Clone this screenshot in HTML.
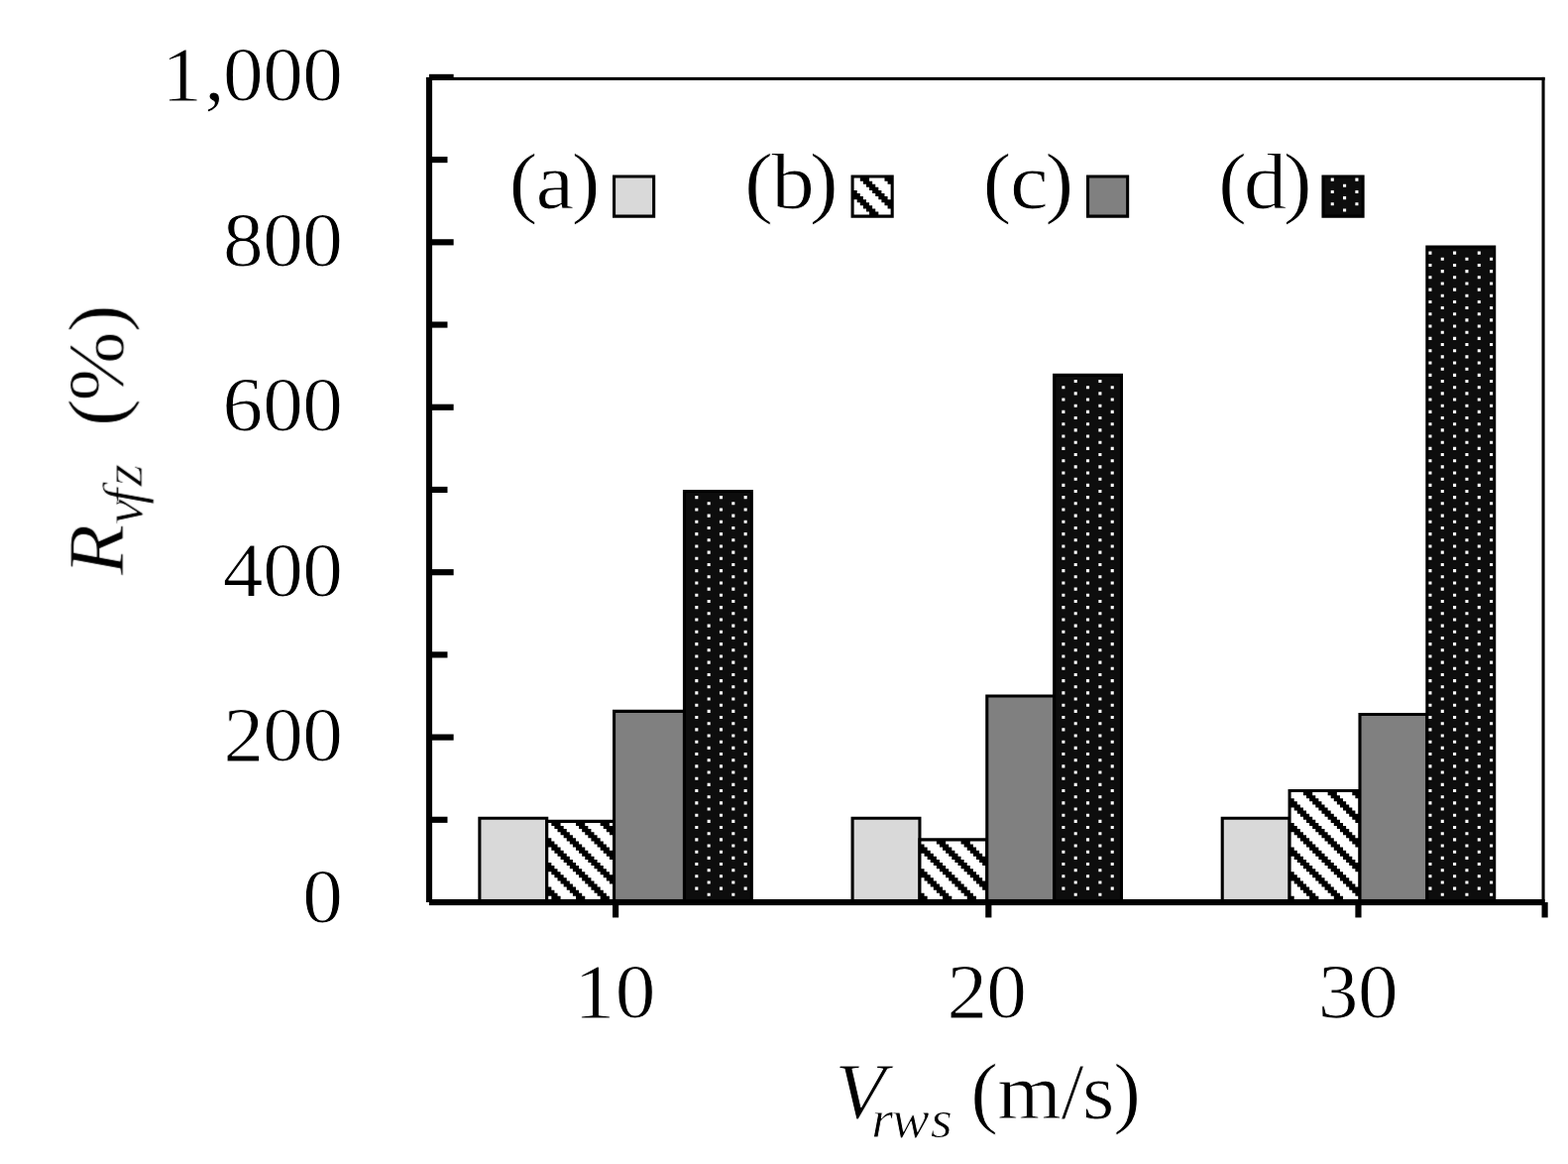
<!DOCTYPE html>
<html lang="en">
<head>
<meta charset="utf-8">
<title>Bar chart: R_vfz (%) versus V_rws (m/s)</title>
<style>
html,body{margin:0;padding:0;background:#fff;}
body{width:1582px;height:1174px;overflow:hidden;}
svg{display:block;}
text{font-family:"Liberation Serif","Times New Roman",Times,serif;fill:#000;}
</style>
</head>
<body>
<svg width="1582" height="1174" viewBox="0 0 1582 1174" role="img" aria-label="Bar chart of R vfz in percent against V rws in m/s for cases (a) to (d)">
<defs>
<filter id="soft" x="0" y="0" width="1582" height="1174" filterUnits="userSpaceOnUse" color-interpolation-filters="sRGB"><feGaussianBlur stdDeviation="0.6"/></filter>
</defs>
<rect x="0" y="0" width="1582" height="1174" fill="#fff"/>
<g id="plot">
<rect x="484.81" y="826.22" width="65.96" height="81.33" fill="#d9d9d9"/>
<path fill="#000" fill-rule="evenodd" d="M482.33,823.73H553.25V910.03H482.33ZM485.41,826.82H550.17V906.95H485.41Z"/>
<rect x="552.65" y="829.3" width="65.96" height="78.25" fill="#fff"/>
<path fill="#000" d="M556.34,828.9H565.59V832.98H556.34zM581.01,828.9H590.26V832.98H581.01zM605.68,828.9H614.93V832.98H605.68zM559.42,832.98H568.67V836.06H559.42zM584.09,832.98H593.34V836.06H584.09zM608.76,832.98H619.01V836.06H608.76zM562.51,836.06H571.76V839.14H562.51zM587.18,836.06H596.43V839.14H587.18zM611.85,836.06H619.01V839.14H611.85zM565.59,839.14H574.84V842.23H565.59zM590.26,839.14H599.51V842.23H590.26zM614.93,839.14H619.01V842.23H614.93zM568.67,842.23H577.92V845.31H568.67zM593.34,842.23H602.6V845.31H593.34zM552.25,845.31H556.34V848.39H552.25zM571.76,845.31H581.01V848.39H571.76zM596.43,845.31H605.68V848.39H596.43zM552.25,848.39H559.42V851.47H552.25zM574.84,848.39H584.09V851.47H574.84zM599.51,848.39H608.76V851.47H599.51zM552.25,851.47H562.51V854.55H552.25zM577.92,851.47H587.18V854.55H577.92zM602.6,851.47H611.85V854.55H602.6zM556.34,854.55H565.59V857.64H556.34zM581.01,854.55H590.26V857.64H581.01zM605.68,854.55H614.93V857.64H605.68zM559.42,857.64H568.67V860.72H559.42zM584.09,857.64H593.34V860.72H584.09zM608.76,857.64H619.01V860.72H608.76zM562.51,860.72H571.76V863.8H562.51zM587.18,860.72H596.43V863.8H587.18zM611.85,860.72H619.01V863.8H611.85zM565.59,863.8H574.84V866.88H565.59zM590.26,863.8H599.51V866.88H590.26zM614.93,863.8H619.01V866.88H614.93zM568.67,866.88H577.92V869.96H568.67zM593.34,866.88H602.6V869.96H593.34zM552.25,869.96H556.34V873.05H552.25zM571.76,869.96H581.01V873.05H571.76zM596.43,869.96H605.68V873.05H596.43zM552.25,873.05H559.42V876.13H552.25zM574.84,873.05H584.09V876.13H574.84zM599.51,873.05H608.76V876.13H599.51zM552.25,876.13H562.51V879.21H552.25zM577.92,876.13H587.18V879.21H577.92zM602.6,876.13H611.85V879.21H602.6zM556.34,879.21H565.59V882.29H556.34zM581.01,879.21H590.26V882.29H581.01zM605.68,879.21H614.93V882.29H605.68zM559.42,882.29H568.67V885.37H559.42zM584.09,882.29H593.34V885.37H584.09zM608.76,882.29H619.01V885.37H608.76zM562.51,885.37H571.76V888.46H562.51zM587.18,885.37H596.43V888.46H587.18zM611.85,885.37H619.01V888.46H611.85zM565.59,888.46H574.84V891.54H565.59zM590.26,888.46H599.51V891.54H590.26zM614.93,888.46H619.01V891.54H614.93zM568.67,891.54H577.92V894.62H568.67zM593.34,891.54H602.6V894.62H593.34zM552.25,894.62H556.34V897.7H552.25zM571.76,894.62H581.01V897.7H571.76zM596.43,894.62H605.68V897.7H596.43zM552.25,897.7H559.42V900.78H552.25zM574.84,897.7H584.09V900.78H574.84zM599.51,897.7H608.76V900.78H599.51zM552.25,900.78H562.51V903.87H552.25zM577.92,900.78H587.18V903.87H577.92zM602.6,900.78H611.85V903.87H602.6zM556.34,903.87H565.59V907.95H556.34zM581.01,903.87H590.26V907.95H581.01zM605.68,903.87H614.93V907.95H605.68z"/>
<path fill="#000" fill-rule="evenodd" d="M550.17,826.82H621.1V910.03H550.17ZM553.25,829.9H618.01V906.95H553.25Z"/>
<rect x="620.5" y="718.35" width="69.04" height="189.2" fill="#808080"/>
<path fill="#000" fill-rule="evenodd" d="M618.01,715.86H692.03V910.03H618.01ZM621.1,718.95H688.94V906.95H621.1Z"/>
<rect x="691.43" y="496.44" width="65.96" height="411.11" fill="#0d0d0d"/>
<path fill="#fff" d="M701.28,500.12H704.36V503.21H701.28zM725.95,500.12H729.03V503.21H725.95zM750.62,500.12H753.7V503.21H750.62zM713.61,506.29H716.7V509.37H713.61zM738.28,506.29H741.37V509.37H738.28zM701.28,512.45H704.36V515.53H701.28zM725.95,512.45H729.03V515.53H725.95zM750.62,512.45H753.7V515.53H750.62zM713.61,518.62H716.7V521.7H713.61zM738.28,518.62H741.37V521.7H738.28zM701.28,524.78H704.36V527.86H701.28zM725.95,524.78H729.03V527.86H725.95zM750.62,524.78H753.7V527.86H750.62zM713.61,530.94H716.7V534.03H713.61zM738.28,530.94H741.37V534.03H738.28zM701.28,537.11H704.36V540.19H701.28zM725.95,537.11H729.03V540.19H725.95zM750.62,537.11H753.7V540.19H750.62zM713.61,543.27H716.7V546.35H713.61zM738.28,543.27H741.37V546.35H738.28zM701.28,549.44H704.36V552.52H701.28zM725.95,549.44H729.03V552.52H725.95zM750.62,549.44H753.7V552.52H750.62zM713.61,555.6H716.7V558.68H713.61zM738.28,555.6H741.37V558.68H738.28zM701.28,561.76H704.36V564.85H701.28zM725.95,561.76H729.03V564.85H725.95zM750.62,561.76H753.7V564.85H750.62zM713.61,567.93H716.7V571.01H713.61zM738.28,567.93H741.37V571.01H738.28zM701.28,574.09H704.36V577.17H701.28zM725.95,574.09H729.03V577.17H725.95zM750.62,574.09H753.7V577.17H750.62zM713.61,580.26H716.7V583.34H713.61zM738.28,580.26H741.37V583.34H738.28zM701.28,586.42H704.36V589.5H701.28zM725.95,586.42H729.03V589.5H725.95zM750.62,586.42H753.7V589.5H750.62zM713.61,592.58H716.7V595.67H713.61zM738.28,592.58H741.37V595.67H738.28zM701.28,598.75H704.36V601.83H701.28zM725.95,598.75H729.03V601.83H725.95zM750.62,598.75H753.7V601.83H750.62zM713.61,604.91H716.7V607.99H713.61zM738.28,604.91H741.37V607.99H738.28zM701.28,611.08H704.36V614.16H701.28zM725.95,611.08H729.03V614.16H725.95zM750.62,611.08H753.7V614.16H750.62zM713.61,617.24H716.7V620.32H713.61zM738.28,617.24H741.37V620.32H738.28zM701.28,623.4H704.36V626.49H701.28zM725.95,623.4H729.03V626.49H725.95zM750.62,623.4H753.7V626.49H750.62zM713.61,629.57H716.7V632.65H713.61zM738.28,629.57H741.37V632.65H738.28zM701.28,635.73H704.36V638.81H701.28zM725.95,635.73H729.03V638.81H725.95zM750.62,635.73H753.7V638.81H750.62zM713.61,641.9H716.7V644.98H713.61zM738.28,641.9H741.37V644.98H738.28zM701.28,648.06H704.36V651.14H701.28zM725.95,648.06H729.03V651.14H725.95zM750.62,648.06H753.7V651.14H750.62zM713.61,654.22H716.7V657.31H713.61zM738.28,654.22H741.37V657.31H738.28zM701.28,660.39H704.36V663.47H701.28zM725.95,660.39H729.03V663.47H725.95zM750.62,660.39H753.7V663.47H750.62zM713.61,666.55H716.7V669.63H713.61zM738.28,666.55H741.37V669.63H738.28zM701.28,672.72H704.36V675.8H701.28zM725.95,672.72H729.03V675.8H725.95zM750.62,672.72H753.7V675.8H750.62zM713.61,678.88H716.7V681.96H713.61zM738.28,678.88H741.37V681.96H738.28zM701.28,685.04H704.36V688.13H701.28zM725.95,685.04H729.03V688.13H725.95zM750.62,685.04H753.7V688.13H750.62zM713.61,691.21H716.7V694.29H713.61zM738.28,691.21H741.37V694.29H738.28zM701.28,697.37H704.36V700.45H701.28zM725.95,697.37H729.03V700.45H725.95zM750.62,697.37H753.7V700.45H750.62zM713.61,703.54H716.7V706.62H713.61zM738.28,703.54H741.37V706.62H738.28zM701.28,709.7H704.36V712.78H701.28zM725.95,709.7H729.03V712.78H725.95zM750.62,709.7H753.7V712.78H750.62zM713.61,715.86H716.7V718.95H713.61zM738.28,715.86H741.37V718.95H738.28zM701.28,722.03H704.36V725.11H701.28zM725.95,722.03H729.03V725.11H725.95zM750.62,722.03H753.7V725.11H750.62zM713.61,728.19H716.7V731.27H713.61zM738.28,728.19H741.37V731.27H738.28zM701.28,734.36H704.36V737.44H701.28zM725.95,734.36H729.03V737.44H725.95zM750.62,734.36H753.7V737.44H750.62zM713.61,740.52H716.7V743.6H713.61zM738.28,740.52H741.37V743.6H738.28zM701.28,746.68H704.36V749.77H701.28zM725.95,746.68H729.03V749.77H725.95zM750.62,746.68H753.7V749.77H750.62zM713.61,752.85H716.7V755.93H713.61zM738.28,752.85H741.37V755.93H738.28zM701.28,759.01H704.36V762.09H701.28zM725.95,759.01H729.03V762.09H725.95zM750.62,759.01H753.7V762.09H750.62zM713.61,765.18H716.7V768.26H713.61zM738.28,765.18H741.37V768.26H738.28zM701.28,771.34H704.36V774.42H701.28zM725.95,771.34H729.03V774.42H725.95zM750.62,771.34H753.7V774.42H750.62zM713.61,777.5H716.7V780.59H713.61zM738.28,777.5H741.37V780.59H738.28zM701.28,783.67H704.36V786.75H701.28zM725.95,783.67H729.03V786.75H725.95zM750.62,783.67H753.7V786.75H750.62zM713.61,789.83H716.7V792.91H713.61zM738.28,789.83H741.37V792.91H738.28zM701.28,796H704.36V799.08H701.28zM725.95,796H729.03V799.08H725.95zM750.62,796H753.7V799.08H750.62zM713.61,802.16H716.7V805.24H713.61zM738.28,802.16H741.37V805.24H738.28zM701.28,808.32H704.36V811.41H701.28zM725.95,808.32H729.03V811.41H725.95zM750.62,808.32H753.7V811.41H750.62zM713.61,814.49H716.7V817.57H713.61zM738.28,814.49H741.37V817.57H738.28zM701.28,820.65H704.36V823.73H701.28zM725.95,820.65H729.03V823.73H725.95zM750.62,820.65H753.7V823.73H750.62zM713.61,826.82H716.7V829.9H713.61zM738.28,826.82H741.37V829.9H738.28zM701.28,832.98H704.36V836.06H701.28zM725.95,832.98H729.03V836.06H725.95zM750.62,832.98H753.7V836.06H750.62zM713.61,839.14H716.7V842.23H713.61zM738.28,839.14H741.37V842.23H738.28zM701.28,845.31H704.36V848.39H701.28zM725.95,845.31H729.03V848.39H725.95zM750.62,845.31H753.7V848.39H750.62zM713.61,851.47H716.7V854.55H713.61zM738.28,851.47H741.37V854.55H738.28zM701.28,857.64H704.36V860.72H701.28zM725.95,857.64H729.03V860.72H725.95zM750.62,857.64H753.7V860.72H750.62zM713.61,863.8H716.7V866.88H713.61zM738.28,863.8H741.37V866.88H738.28zM701.28,869.96H704.36V873.05H701.28zM725.95,869.96H729.03V873.05H725.95zM750.62,869.96H753.7V873.05H750.62zM713.61,876.13H716.7V879.21H713.61zM738.28,876.13H741.37V879.21H738.28zM701.28,882.29H704.36V885.37H701.28zM725.95,882.29H729.03V885.37H725.95zM750.62,882.29H753.7V885.37H750.62zM713.61,888.46H716.7V891.54H713.61zM738.28,888.46H741.37V891.54H738.28zM701.28,894.62H704.36V897.7H701.28zM725.95,894.62H729.03V897.7H725.95zM750.62,894.62H753.7V897.7H750.62zM713.61,900.78H716.7V903.87H713.61zM738.28,900.78H741.37V903.87H738.28z"/>
<path fill="#000" fill-rule="evenodd" d="M688.94,493.96H759.87V910.03H688.94ZM692.03,497.04H756.79V906.95H692.03Z"/>
<rect x="861.04" y="826.22" width="65.96" height="81.33" fill="#d9d9d9"/>
<path fill="#000" fill-rule="evenodd" d="M858.55,823.73H929.48V910.03H858.55ZM861.64,826.82H926.4V906.95H861.64Z"/>
<rect x="928.88" y="847.79" width="65.96" height="59.76" fill="#fff"/>
<path fill="#000" d="M944.9,847.39H954.15V851.47H944.9zM969.57,847.39H978.82V851.47H969.57zM928.48,851.47H932.56V854.55H928.48zM947.98,851.47H957.23V854.55H947.98zM972.65,851.47H981.9V854.55H972.65zM928.48,854.55H935.65V857.64H928.48zM951.07,854.55H960.32V857.64H951.07zM975.74,854.55H984.99V857.64H975.74zM928.48,857.64H938.73V860.72H928.48zM954.15,857.64H963.4V860.72H954.15zM978.82,857.64H988.07V860.72H978.82zM932.56,860.72H941.82V863.8H932.56zM957.23,860.72H966.49V863.8H957.23zM981.9,860.72H991.16V863.8H981.9zM935.65,863.8H944.9V866.88H935.65zM960.32,863.8H969.57V866.88H960.32zM984.99,863.8H995.24V866.88H984.99zM938.73,866.88H947.98V869.96H938.73zM963.4,866.88H972.65V869.96H963.4zM988.07,866.88H995.24V869.96H988.07zM941.82,869.96H951.07V873.05H941.82zM966.49,869.96H975.74V873.05H966.49zM991.16,869.96H995.24V873.05H991.16zM944.9,873.05H954.15V876.13H944.9zM969.57,873.05H978.82V876.13H969.57zM928.48,876.13H932.56V879.21H928.48zM947.98,876.13H957.23V879.21H947.98zM972.65,876.13H981.9V879.21H972.65zM928.48,879.21H935.65V882.29H928.48zM951.07,879.21H960.32V882.29H951.07zM975.74,879.21H984.99V882.29H975.74zM928.48,882.29H938.73V885.37H928.48zM954.15,882.29H963.4V885.37H954.15zM978.82,882.29H988.07V885.37H978.82zM932.56,885.37H941.82V888.46H932.56zM957.23,885.37H966.49V888.46H957.23zM981.9,885.37H991.16V888.46H981.9zM935.65,888.46H944.9V891.54H935.65zM960.32,888.46H969.57V891.54H960.32zM984.99,888.46H995.24V891.54H984.99zM938.73,891.54H947.98V894.62H938.73zM963.4,891.54H972.65V894.62H963.4zM988.07,891.54H995.24V894.62H988.07zM941.82,894.62H951.07V897.7H941.82zM966.49,894.62H975.74V897.7H966.49zM991.16,894.62H995.24V897.7H991.16zM944.9,897.7H954.15V900.78H944.9zM969.57,897.7H978.82V900.78H969.57zM928.48,900.78H932.56V903.87H928.48zM947.98,900.78H957.23V903.87H947.98zM972.65,900.78H981.9V903.87H972.65zM928.48,903.87H935.65V907.95H928.48zM951.07,903.87H960.32V907.95H951.07zM975.74,903.87H984.99V907.95H975.74z"/>
<path fill="#000" fill-rule="evenodd" d="M926.4,845.31H997.32V910.03H926.4ZM929.48,848.39H994.24V906.95H929.48Z"/>
<rect x="996.72" y="702.94" width="65.96" height="204.61" fill="#808080"/>
<path fill="#000" fill-rule="evenodd" d="M994.24,700.45H1065.17V910.03H994.24ZM997.32,703.54H1062.08V906.95H997.32Z"/>
<rect x="1064.57" y="379.33" width="65.96" height="528.22" fill="#0d0d0d"/>
<path fill="#fff" d="M1083.67,383.01H1086.75V386.09H1083.67zM1108.34,383.01H1111.43V386.09H1108.34zM1071.34,389.17H1074.42V392.25H1071.34zM1096.01,389.17H1099.09V392.25H1096.01zM1120.68,389.17H1123.76V392.25H1120.68zM1083.67,395.34H1086.75V398.42H1083.67zM1108.34,395.34H1111.43V398.42H1108.34zM1071.34,401.5H1074.42V404.58H1071.34zM1096.01,401.5H1099.09V404.58H1096.01zM1120.68,401.5H1123.76V404.58H1120.68zM1083.67,407.66H1086.75V410.75H1083.67zM1108.34,407.66H1111.43V410.75H1108.34zM1071.34,413.83H1074.42V416.91H1071.34zM1096.01,413.83H1099.09V416.91H1096.01zM1120.68,413.83H1123.76V416.91H1120.68zM1083.67,419.99H1086.75V423.07H1083.67zM1108.34,419.99H1111.43V423.07H1108.34zM1071.34,426.16H1074.42V429.24H1071.34zM1096.01,426.16H1099.09V429.24H1096.01zM1120.68,426.16H1123.76V429.24H1120.68zM1083.67,432.32H1086.75V435.4H1083.67zM1108.34,432.32H1111.43V435.4H1108.34zM1071.34,438.48H1074.42V441.57H1071.34zM1096.01,438.48H1099.09V441.57H1096.01zM1120.68,438.48H1123.76V441.57H1120.68zM1083.67,444.65H1086.75V447.73H1083.67zM1108.34,444.65H1111.43V447.73H1108.34zM1071.34,450.81H1074.42V453.89H1071.34zM1096.01,450.81H1099.09V453.89H1096.01zM1120.68,450.81H1123.76V453.89H1120.68zM1083.67,456.98H1086.75V460.06H1083.67zM1108.34,456.98H1111.43V460.06H1108.34zM1071.34,463.14H1074.42V466.22H1071.34zM1096.01,463.14H1099.09V466.22H1096.01zM1120.68,463.14H1123.76V466.22H1120.68zM1083.67,469.3H1086.75V472.39H1083.67zM1108.34,469.3H1111.43V472.39H1108.34zM1071.34,475.47H1074.42V478.55H1071.34zM1096.01,475.47H1099.09V478.55H1096.01zM1120.68,475.47H1123.76V478.55H1120.68zM1083.67,481.63H1086.75V484.71H1083.67zM1108.34,481.63H1111.43V484.71H1108.34zM1071.34,487.8H1074.42V490.88H1071.34zM1096.01,487.8H1099.09V490.88H1096.01zM1120.68,487.8H1123.76V490.88H1120.68zM1083.67,493.96H1086.75V497.04H1083.67zM1108.34,493.96H1111.43V497.04H1108.34zM1071.34,500.12H1074.42V503.21H1071.34zM1096.01,500.12H1099.09V503.21H1096.01zM1120.68,500.12H1123.76V503.21H1120.68zM1083.67,506.29H1086.75V509.37H1083.67zM1108.34,506.29H1111.43V509.37H1108.34zM1071.34,512.45H1074.42V515.53H1071.34zM1096.01,512.45H1099.09V515.53H1096.01zM1120.68,512.45H1123.76V515.53H1120.68zM1083.67,518.62H1086.75V521.7H1083.67zM1108.34,518.62H1111.43V521.7H1108.34zM1071.34,524.78H1074.42V527.86H1071.34zM1096.01,524.78H1099.09V527.86H1096.01zM1120.68,524.78H1123.76V527.86H1120.68zM1083.67,530.94H1086.75V534.03H1083.67zM1108.34,530.94H1111.43V534.03H1108.34zM1071.34,537.11H1074.42V540.19H1071.34zM1096.01,537.11H1099.09V540.19H1096.01zM1120.68,537.11H1123.76V540.19H1120.68zM1083.67,543.27H1086.75V546.35H1083.67zM1108.34,543.27H1111.43V546.35H1108.34zM1071.34,549.44H1074.42V552.52H1071.34zM1096.01,549.44H1099.09V552.52H1096.01zM1120.68,549.44H1123.76V552.52H1120.68zM1083.67,555.6H1086.75V558.68H1083.67zM1108.34,555.6H1111.43V558.68H1108.34zM1071.34,561.76H1074.42V564.85H1071.34zM1096.01,561.76H1099.09V564.85H1096.01zM1120.68,561.76H1123.76V564.85H1120.68zM1083.67,567.93H1086.75V571.01H1083.67zM1108.34,567.93H1111.43V571.01H1108.34zM1071.34,574.09H1074.42V577.17H1071.34zM1096.01,574.09H1099.09V577.17H1096.01zM1120.68,574.09H1123.76V577.17H1120.68zM1083.67,580.26H1086.75V583.34H1083.67zM1108.34,580.26H1111.43V583.34H1108.34zM1071.34,586.42H1074.42V589.5H1071.34zM1096.01,586.42H1099.09V589.5H1096.01zM1120.68,586.42H1123.76V589.5H1120.68zM1083.67,592.58H1086.75V595.67H1083.67zM1108.34,592.58H1111.43V595.67H1108.34zM1071.34,598.75H1074.42V601.83H1071.34zM1096.01,598.75H1099.09V601.83H1096.01zM1120.68,598.75H1123.76V601.83H1120.68zM1083.67,604.91H1086.75V607.99H1083.67zM1108.34,604.91H1111.43V607.99H1108.34zM1071.34,611.08H1074.42V614.16H1071.34zM1096.01,611.08H1099.09V614.16H1096.01zM1120.68,611.08H1123.76V614.16H1120.68zM1083.67,617.24H1086.75V620.32H1083.67zM1108.34,617.24H1111.43V620.32H1108.34zM1071.34,623.4H1074.42V626.49H1071.34zM1096.01,623.4H1099.09V626.49H1096.01zM1120.68,623.4H1123.76V626.49H1120.68zM1083.67,629.57H1086.75V632.65H1083.67zM1108.34,629.57H1111.43V632.65H1108.34zM1071.34,635.73H1074.42V638.81H1071.34zM1096.01,635.73H1099.09V638.81H1096.01zM1120.68,635.73H1123.76V638.81H1120.68zM1083.67,641.9H1086.75V644.98H1083.67zM1108.34,641.9H1111.43V644.98H1108.34zM1071.34,648.06H1074.42V651.14H1071.34zM1096.01,648.06H1099.09V651.14H1096.01zM1120.68,648.06H1123.76V651.14H1120.68zM1083.67,654.22H1086.75V657.31H1083.67zM1108.34,654.22H1111.43V657.31H1108.34zM1071.34,660.39H1074.42V663.47H1071.34zM1096.01,660.39H1099.09V663.47H1096.01zM1120.68,660.39H1123.76V663.47H1120.68zM1083.67,666.55H1086.75V669.63H1083.67zM1108.34,666.55H1111.43V669.63H1108.34zM1071.34,672.72H1074.42V675.8H1071.34zM1096.01,672.72H1099.09V675.8H1096.01zM1120.68,672.72H1123.76V675.8H1120.68zM1083.67,678.88H1086.75V681.96H1083.67zM1108.34,678.88H1111.43V681.96H1108.34zM1071.34,685.04H1074.42V688.13H1071.34zM1096.01,685.04H1099.09V688.13H1096.01zM1120.68,685.04H1123.76V688.13H1120.68zM1083.67,691.21H1086.75V694.29H1083.67zM1108.34,691.21H1111.43V694.29H1108.34zM1071.34,697.37H1074.42V700.45H1071.34zM1096.01,697.37H1099.09V700.45H1096.01zM1120.68,697.37H1123.76V700.45H1120.68zM1083.67,703.54H1086.75V706.62H1083.67zM1108.34,703.54H1111.43V706.62H1108.34zM1071.34,709.7H1074.42V712.78H1071.34zM1096.01,709.7H1099.09V712.78H1096.01zM1120.68,709.7H1123.76V712.78H1120.68zM1083.67,715.86H1086.75V718.95H1083.67zM1108.34,715.86H1111.43V718.95H1108.34zM1071.34,722.03H1074.42V725.11H1071.34zM1096.01,722.03H1099.09V725.11H1096.01zM1120.68,722.03H1123.76V725.11H1120.68zM1083.67,728.19H1086.75V731.27H1083.67zM1108.34,728.19H1111.43V731.27H1108.34zM1071.34,734.36H1074.42V737.44H1071.34zM1096.01,734.36H1099.09V737.44H1096.01zM1120.68,734.36H1123.76V737.44H1120.68zM1083.67,740.52H1086.75V743.6H1083.67zM1108.34,740.52H1111.43V743.6H1108.34zM1071.34,746.68H1074.42V749.77H1071.34zM1096.01,746.68H1099.09V749.77H1096.01zM1120.68,746.68H1123.76V749.77H1120.68zM1083.67,752.85H1086.75V755.93H1083.67zM1108.34,752.85H1111.43V755.93H1108.34zM1071.34,759.01H1074.42V762.09H1071.34zM1096.01,759.01H1099.09V762.09H1096.01zM1120.68,759.01H1123.76V762.09H1120.68zM1083.67,765.18H1086.75V768.26H1083.67zM1108.34,765.18H1111.43V768.26H1108.34zM1071.34,771.34H1074.42V774.42H1071.34zM1096.01,771.34H1099.09V774.42H1096.01zM1120.68,771.34H1123.76V774.42H1120.68zM1083.67,777.5H1086.75V780.59H1083.67zM1108.34,777.5H1111.43V780.59H1108.34zM1071.34,783.67H1074.42V786.75H1071.34zM1096.01,783.67H1099.09V786.75H1096.01zM1120.68,783.67H1123.76V786.75H1120.68zM1083.67,789.83H1086.75V792.91H1083.67zM1108.34,789.83H1111.43V792.91H1108.34zM1071.34,796H1074.42V799.08H1071.34zM1096.01,796H1099.09V799.08H1096.01zM1120.68,796H1123.76V799.08H1120.68zM1083.67,802.16H1086.75V805.24H1083.67zM1108.34,802.16H1111.43V805.24H1108.34zM1071.34,808.32H1074.42V811.41H1071.34zM1096.01,808.32H1099.09V811.41H1096.01zM1120.68,808.32H1123.76V811.41H1120.68zM1083.67,814.49H1086.75V817.57H1083.67zM1108.34,814.49H1111.43V817.57H1108.34zM1071.34,820.65H1074.42V823.73H1071.34zM1096.01,820.65H1099.09V823.73H1096.01zM1120.68,820.65H1123.76V823.73H1120.68zM1083.67,826.82H1086.75V829.9H1083.67zM1108.34,826.82H1111.43V829.9H1108.34zM1071.34,832.98H1074.42V836.06H1071.34zM1096.01,832.98H1099.09V836.06H1096.01zM1120.68,832.98H1123.76V836.06H1120.68zM1083.67,839.14H1086.75V842.23H1083.67zM1108.34,839.14H1111.43V842.23H1108.34zM1071.34,845.31H1074.42V848.39H1071.34zM1096.01,845.31H1099.09V848.39H1096.01zM1120.68,845.31H1123.76V848.39H1120.68zM1083.67,851.47H1086.75V854.55H1083.67zM1108.34,851.47H1111.43V854.55H1108.34zM1071.34,857.64H1074.42V860.72H1071.34zM1096.01,857.64H1099.09V860.72H1096.01zM1120.68,857.64H1123.76V860.72H1120.68zM1083.67,863.8H1086.75V866.88H1083.67zM1108.34,863.8H1111.43V866.88H1108.34zM1071.34,869.96H1074.42V873.05H1071.34zM1096.01,869.96H1099.09V873.05H1096.01zM1120.68,869.96H1123.76V873.05H1120.68zM1083.67,876.13H1086.75V879.21H1083.67zM1108.34,876.13H1111.43V879.21H1108.34zM1071.34,882.29H1074.42V885.37H1071.34zM1096.01,882.29H1099.09V885.37H1096.01zM1120.68,882.29H1123.76V885.37H1120.68zM1083.67,888.46H1086.75V891.54H1083.67zM1108.34,888.46H1111.43V891.54H1108.34zM1071.34,894.62H1074.42V897.7H1071.34zM1096.01,894.62H1099.09V897.7H1096.01zM1120.68,894.62H1123.76V897.7H1120.68zM1083.67,900.78H1086.75V903.87H1083.67zM1108.34,900.78H1111.43V903.87H1108.34z"/>
<path fill="#000" fill-rule="evenodd" d="M1062.08,376.84H1133.01V910.03H1062.08ZM1065.17,379.93H1129.93V906.95H1065.17Z"/>
<rect x="1234.18" y="826.22" width="65.96" height="81.33" fill="#d9d9d9"/>
<path fill="#000" fill-rule="evenodd" d="M1231.69,823.73H1302.62V910.03H1231.69ZM1234.78,826.82H1299.54V906.95H1234.78Z"/>
<rect x="1302.02" y="798.48" width="69.04" height="109.07" fill="#fff"/>
<path fill="#000" d="M1314.96,798.08H1324.21V802.16H1314.96zM1339.63,798.08H1348.88V802.16H1339.63zM1364.3,798.08H1371.47V802.16H1364.3zM1318.04,802.16H1327.29V805.24H1318.04zM1342.71,802.16H1351.96V805.24H1342.71zM1367.38,802.16H1371.47V805.24H1367.38zM1301.62,805.24H1305.71V808.32H1301.62zM1321.13,805.24H1330.38V808.32H1321.13zM1345.8,805.24H1355.05V808.32H1345.8zM1301.62,808.32H1308.79V811.41H1301.62zM1324.21,808.32H1333.46V811.41H1324.21zM1348.88,808.32H1358.13V811.41H1348.88zM1301.62,811.41H1311.87V814.49H1301.62zM1327.29,811.41H1336.54V814.49H1327.29zM1351.96,811.41H1361.21V814.49H1351.96zM1305.71,814.49H1314.96V817.57H1305.71zM1330.38,814.49H1339.63V817.57H1330.38zM1355.05,814.49H1364.3V817.57H1355.05zM1308.79,817.57H1318.04V820.65H1308.79zM1333.46,817.57H1342.71V820.65H1333.46zM1358.13,817.57H1367.38V820.65H1358.13zM1311.87,820.65H1321.13V823.73H1311.87zM1336.54,820.65H1345.8V823.73H1336.54zM1361.21,820.65H1371.47V823.73H1361.21zM1314.96,823.73H1324.21V826.82H1314.96zM1339.63,823.73H1348.88V826.82H1339.63zM1364.3,823.73H1371.47V826.82H1364.3zM1318.04,826.82H1327.29V829.9H1318.04zM1342.71,826.82H1351.96V829.9H1342.71zM1367.38,826.82H1371.47V829.9H1367.38zM1301.62,829.9H1305.71V832.98H1301.62zM1321.13,829.9H1330.38V832.98H1321.13zM1345.8,829.9H1355.05V832.98H1345.8zM1301.62,832.98H1308.79V836.06H1301.62zM1324.21,832.98H1333.46V836.06H1324.21zM1348.88,832.98H1358.13V836.06H1348.88zM1301.62,836.06H1311.87V839.14H1301.62zM1327.29,836.06H1336.54V839.14H1327.29zM1351.96,836.06H1361.21V839.14H1351.96zM1305.71,839.14H1314.96V842.23H1305.71zM1330.38,839.14H1339.63V842.23H1330.38zM1355.05,839.14H1364.3V842.23H1355.05zM1308.79,842.23H1318.04V845.31H1308.79zM1333.46,842.23H1342.71V845.31H1333.46zM1358.13,842.23H1367.38V845.31H1358.13zM1311.87,845.31H1321.13V848.39H1311.87zM1336.54,845.31H1345.8V848.39H1336.54zM1361.21,845.31H1371.47V848.39H1361.21zM1314.96,848.39H1324.21V851.47H1314.96zM1339.63,848.39H1348.88V851.47H1339.63zM1364.3,848.39H1371.47V851.47H1364.3zM1318.04,851.47H1327.29V854.55H1318.04zM1342.71,851.47H1351.96V854.55H1342.71zM1367.38,851.47H1371.47V854.55H1367.38zM1301.62,854.55H1305.71V857.64H1301.62zM1321.13,854.55H1330.38V857.64H1321.13zM1345.8,854.55H1355.05V857.64H1345.8zM1301.62,857.64H1308.79V860.72H1301.62zM1324.21,857.64H1333.46V860.72H1324.21zM1348.88,857.64H1358.13V860.72H1348.88zM1301.62,860.72H1311.87V863.8H1301.62zM1327.29,860.72H1336.54V863.8H1327.29zM1351.96,860.72H1361.21V863.8H1351.96zM1305.71,863.8H1314.96V866.88H1305.71zM1330.38,863.8H1339.63V866.88H1330.38zM1355.05,863.8H1364.3V866.88H1355.05zM1308.79,866.88H1318.04V869.96H1308.79zM1333.46,866.88H1342.71V869.96H1333.46zM1358.13,866.88H1367.38V869.96H1358.13zM1311.87,869.96H1321.13V873.05H1311.87zM1336.54,869.96H1345.8V873.05H1336.54zM1361.21,869.96H1371.47V873.05H1361.21zM1314.96,873.05H1324.21V876.13H1314.96zM1339.63,873.05H1348.88V876.13H1339.63zM1364.3,873.05H1371.47V876.13H1364.3zM1318.04,876.13H1327.29V879.21H1318.04zM1342.71,876.13H1351.96V879.21H1342.71zM1367.38,876.13H1371.47V879.21H1367.38zM1301.62,879.21H1305.71V882.29H1301.62zM1321.13,879.21H1330.38V882.29H1321.13zM1345.8,879.21H1355.05V882.29H1345.8zM1301.62,882.29H1308.79V885.37H1301.62zM1324.21,882.29H1333.46V885.37H1324.21zM1348.88,882.29H1358.13V885.37H1348.88zM1301.62,885.37H1311.87V888.46H1301.62zM1327.29,885.37H1336.54V888.46H1327.29zM1351.96,885.37H1361.21V888.46H1351.96zM1305.71,888.46H1314.96V891.54H1305.71zM1330.38,888.46H1339.63V891.54H1330.38zM1355.05,888.46H1364.3V891.54H1355.05zM1308.79,891.54H1318.04V894.62H1308.79zM1333.46,891.54H1342.71V894.62H1333.46zM1358.13,891.54H1367.38V894.62H1358.13zM1311.87,894.62H1321.13V897.7H1311.87zM1336.54,894.62H1345.8V897.7H1336.54zM1361.21,894.62H1371.47V897.7H1361.21zM1314.96,897.7H1324.21V900.78H1314.96zM1339.63,897.7H1348.88V900.78H1339.63zM1364.3,897.7H1371.47V900.78H1364.3zM1318.04,900.78H1327.29V903.87H1318.04zM1342.71,900.78H1351.96V903.87H1342.71zM1367.38,900.78H1371.47V903.87H1367.38zM1301.62,903.87H1305.71V907.95H1301.62zM1321.13,903.87H1330.38V907.95H1321.13zM1345.8,903.87H1355.05V907.95H1345.8z"/>
<path fill="#000" fill-rule="evenodd" d="M1299.54,796H1373.55V910.03H1299.54ZM1302.62,799.08H1370.47V906.95H1302.62Z"/>
<rect x="1372.95" y="721.43" width="65.96" height="186.12" fill="#808080"/>
<path fill="#000" fill-rule="evenodd" d="M1370.47,718.95H1441.39V910.03H1370.47ZM1373.55,722.03H1438.31V906.95H1373.55Z"/>
<rect x="1440.79" y="249.88" width="65.96" height="657.67" fill="#0d0d0d"/>
<path fill="#fff" d="M1440.39,253.56H1444.48V256.65H1440.39zM1466.06,253.56H1469.15V256.65H1466.06zM1490.74,253.56H1493.82V256.65H1490.74zM1453.73,259.73H1456.81V262.81H1453.73zM1478.4,259.73H1481.48V262.81H1478.4zM1503.07,259.73H1507.15V262.81H1503.07zM1440.39,265.89H1444.48V268.97H1440.39zM1466.06,265.89H1469.15V268.97H1466.06zM1490.74,265.89H1493.82V268.97H1490.74zM1453.73,272.06H1456.81V275.14H1453.73zM1478.4,272.06H1481.48V275.14H1478.4zM1503.07,272.06H1507.15V275.14H1503.07zM1440.39,278.22H1444.48V281.3H1440.39zM1466.06,278.22H1469.15V281.3H1466.06zM1490.74,278.22H1493.82V281.3H1490.74zM1453.73,284.38H1456.81V287.47H1453.73zM1478.4,284.38H1481.48V287.47H1478.4zM1503.07,284.38H1507.15V287.47H1503.07zM1440.39,290.55H1444.48V293.63H1440.39zM1466.06,290.55H1469.15V293.63H1466.06zM1490.74,290.55H1493.82V293.63H1490.74zM1453.73,296.71H1456.81V299.79H1453.73zM1478.4,296.71H1481.48V299.79H1478.4zM1503.07,296.71H1507.15V299.79H1503.07zM1440.39,302.88H1444.48V305.96H1440.39zM1466.06,302.88H1469.15V305.96H1466.06zM1490.74,302.88H1493.82V305.96H1490.74zM1453.73,309.04H1456.81V312.12H1453.73zM1478.4,309.04H1481.48V312.12H1478.4zM1503.07,309.04H1507.15V312.12H1503.07zM1440.39,315.2H1444.48V318.29H1440.39zM1466.06,315.2H1469.15V318.29H1466.06zM1490.74,315.2H1493.82V318.29H1490.74zM1453.73,321.37H1456.81V324.45H1453.73zM1478.4,321.37H1481.48V324.45H1478.4zM1503.07,321.37H1507.15V324.45H1503.07zM1440.39,327.53H1444.48V330.61H1440.39zM1466.06,327.53H1469.15V330.61H1466.06zM1490.74,327.53H1493.82V330.61H1490.74zM1453.73,333.7H1456.81V336.78H1453.73zM1478.4,333.7H1481.48V336.78H1478.4zM1503.07,333.7H1507.15V336.78H1503.07zM1440.39,339.86H1444.48V342.94H1440.39zM1466.06,339.86H1469.15V342.94H1466.06zM1490.74,339.86H1493.82V342.94H1490.74zM1453.73,346.02H1456.81V349.11H1453.73zM1478.4,346.02H1481.48V349.11H1478.4zM1503.07,346.02H1507.15V349.11H1503.07zM1440.39,352.19H1444.48V355.27H1440.39zM1466.06,352.19H1469.15V355.27H1466.06zM1490.74,352.19H1493.82V355.27H1490.74zM1453.73,358.35H1456.81V361.43H1453.73zM1478.4,358.35H1481.48V361.43H1478.4zM1503.07,358.35H1507.15V361.43H1503.07zM1440.39,364.52H1444.48V367.6H1440.39zM1466.06,364.52H1469.15V367.6H1466.06zM1490.74,364.52H1493.82V367.6H1490.74zM1453.73,370.68H1456.81V373.76H1453.73zM1478.4,370.68H1481.48V373.76H1478.4zM1503.07,370.68H1507.15V373.76H1503.07zM1440.39,376.84H1444.48V379.93H1440.39zM1466.06,376.84H1469.15V379.93H1466.06zM1490.74,376.84H1493.82V379.93H1490.74zM1453.73,383.01H1456.81V386.09H1453.73zM1478.4,383.01H1481.48V386.09H1478.4zM1503.07,383.01H1507.15V386.09H1503.07zM1440.39,389.17H1444.48V392.25H1440.39zM1466.06,389.17H1469.15V392.25H1466.06zM1490.74,389.17H1493.82V392.25H1490.74zM1453.73,395.34H1456.81V398.42H1453.73zM1478.4,395.34H1481.48V398.42H1478.4zM1503.07,395.34H1507.15V398.42H1503.07zM1440.39,401.5H1444.48V404.58H1440.39zM1466.06,401.5H1469.15V404.58H1466.06zM1490.74,401.5H1493.82V404.58H1490.74zM1453.73,407.66H1456.81V410.75H1453.73zM1478.4,407.66H1481.48V410.75H1478.4zM1503.07,407.66H1507.15V410.75H1503.07zM1440.39,413.83H1444.48V416.91H1440.39zM1466.06,413.83H1469.15V416.91H1466.06zM1490.74,413.83H1493.82V416.91H1490.74zM1453.73,419.99H1456.81V423.07H1453.73zM1478.4,419.99H1481.48V423.07H1478.4zM1503.07,419.99H1507.15V423.07H1503.07zM1440.39,426.16H1444.48V429.24H1440.39zM1466.06,426.16H1469.15V429.24H1466.06zM1490.74,426.16H1493.82V429.24H1490.74zM1453.73,432.32H1456.81V435.4H1453.73zM1478.4,432.32H1481.48V435.4H1478.4zM1503.07,432.32H1507.15V435.4H1503.07zM1440.39,438.48H1444.48V441.57H1440.39zM1466.06,438.48H1469.15V441.57H1466.06zM1490.74,438.48H1493.82V441.57H1490.74zM1453.73,444.65H1456.81V447.73H1453.73zM1478.4,444.65H1481.48V447.73H1478.4zM1503.07,444.65H1507.15V447.73H1503.07zM1440.39,450.81H1444.48V453.89H1440.39zM1466.06,450.81H1469.15V453.89H1466.06zM1490.74,450.81H1493.82V453.89H1490.74zM1453.73,456.98H1456.81V460.06H1453.73zM1478.4,456.98H1481.48V460.06H1478.4zM1503.07,456.98H1507.15V460.06H1503.07zM1440.39,463.14H1444.48V466.22H1440.39zM1466.06,463.14H1469.15V466.22H1466.06zM1490.74,463.14H1493.82V466.22H1490.74zM1453.73,469.3H1456.81V472.39H1453.73zM1478.4,469.3H1481.48V472.39H1478.4zM1503.07,469.3H1507.15V472.39H1503.07zM1440.39,475.47H1444.48V478.55H1440.39zM1466.06,475.47H1469.15V478.55H1466.06zM1490.74,475.47H1493.82V478.55H1490.74zM1453.73,481.63H1456.81V484.71H1453.73zM1478.4,481.63H1481.48V484.71H1478.4zM1503.07,481.63H1507.15V484.71H1503.07zM1440.39,487.8H1444.48V490.88H1440.39zM1466.06,487.8H1469.15V490.88H1466.06zM1490.74,487.8H1493.82V490.88H1490.74zM1453.73,493.96H1456.81V497.04H1453.73zM1478.4,493.96H1481.48V497.04H1478.4zM1503.07,493.96H1507.15V497.04H1503.07zM1440.39,500.12H1444.48V503.21H1440.39zM1466.06,500.12H1469.15V503.21H1466.06zM1490.74,500.12H1493.82V503.21H1490.74zM1453.73,506.29H1456.81V509.37H1453.73zM1478.4,506.29H1481.48V509.37H1478.4zM1503.07,506.29H1507.15V509.37H1503.07zM1440.39,512.45H1444.48V515.53H1440.39zM1466.06,512.45H1469.15V515.53H1466.06zM1490.74,512.45H1493.82V515.53H1490.74zM1453.73,518.62H1456.81V521.7H1453.73zM1478.4,518.62H1481.48V521.7H1478.4zM1503.07,518.62H1507.15V521.7H1503.07zM1440.39,524.78H1444.48V527.86H1440.39zM1466.06,524.78H1469.15V527.86H1466.06zM1490.74,524.78H1493.82V527.86H1490.74zM1453.73,530.94H1456.81V534.03H1453.73zM1478.4,530.94H1481.48V534.03H1478.4zM1503.07,530.94H1507.15V534.03H1503.07zM1440.39,537.11H1444.48V540.19H1440.39zM1466.06,537.11H1469.15V540.19H1466.06zM1490.74,537.11H1493.82V540.19H1490.74zM1453.73,543.27H1456.81V546.35H1453.73zM1478.4,543.27H1481.48V546.35H1478.4zM1503.07,543.27H1507.15V546.35H1503.07zM1440.39,549.44H1444.48V552.52H1440.39zM1466.06,549.44H1469.15V552.52H1466.06zM1490.74,549.44H1493.82V552.52H1490.74zM1453.73,555.6H1456.81V558.68H1453.73zM1478.4,555.6H1481.48V558.68H1478.4zM1503.07,555.6H1507.15V558.68H1503.07zM1440.39,561.76H1444.48V564.85H1440.39zM1466.06,561.76H1469.15V564.85H1466.06zM1490.74,561.76H1493.82V564.85H1490.74zM1453.73,567.93H1456.81V571.01H1453.73zM1478.4,567.93H1481.48V571.01H1478.4zM1503.07,567.93H1507.15V571.01H1503.07zM1440.39,574.09H1444.48V577.17H1440.39zM1466.06,574.09H1469.15V577.17H1466.06zM1490.74,574.09H1493.82V577.17H1490.74zM1453.73,580.26H1456.81V583.34H1453.73zM1478.4,580.26H1481.48V583.34H1478.4zM1503.07,580.26H1507.15V583.34H1503.07zM1440.39,586.42H1444.48V589.5H1440.39zM1466.06,586.42H1469.15V589.5H1466.06zM1490.74,586.42H1493.82V589.5H1490.74zM1453.73,592.58H1456.81V595.67H1453.73zM1478.4,592.58H1481.48V595.67H1478.4zM1503.07,592.58H1507.15V595.67H1503.07zM1440.39,598.75H1444.48V601.83H1440.39zM1466.06,598.75H1469.15V601.83H1466.06zM1490.74,598.75H1493.82V601.83H1490.74zM1453.73,604.91H1456.81V607.99H1453.73zM1478.4,604.91H1481.48V607.99H1478.4zM1503.07,604.91H1507.15V607.99H1503.07zM1440.39,611.08H1444.48V614.16H1440.39zM1466.06,611.08H1469.15V614.16H1466.06zM1490.74,611.08H1493.82V614.16H1490.74zM1453.73,617.24H1456.81V620.32H1453.73zM1478.4,617.24H1481.48V620.32H1478.4zM1503.07,617.24H1507.15V620.32H1503.07zM1440.39,623.4H1444.48V626.49H1440.39zM1466.06,623.4H1469.15V626.49H1466.06zM1490.74,623.4H1493.82V626.49H1490.74zM1453.73,629.57H1456.81V632.65H1453.73zM1478.4,629.57H1481.48V632.65H1478.4zM1503.07,629.57H1507.15V632.65H1503.07zM1440.39,635.73H1444.48V638.81H1440.39zM1466.06,635.73H1469.15V638.81H1466.06zM1490.74,635.73H1493.82V638.81H1490.74zM1453.73,641.9H1456.81V644.98H1453.73zM1478.4,641.9H1481.48V644.98H1478.4zM1503.07,641.9H1507.15V644.98H1503.07zM1440.39,648.06H1444.48V651.14H1440.39zM1466.06,648.06H1469.15V651.14H1466.06zM1490.74,648.06H1493.82V651.14H1490.74zM1453.73,654.22H1456.81V657.31H1453.73zM1478.4,654.22H1481.48V657.31H1478.4zM1503.07,654.22H1507.15V657.31H1503.07zM1440.39,660.39H1444.48V663.47H1440.39zM1466.06,660.39H1469.15V663.47H1466.06zM1490.74,660.39H1493.82V663.47H1490.74zM1453.73,666.55H1456.81V669.63H1453.73zM1478.4,666.55H1481.48V669.63H1478.4zM1503.07,666.55H1507.15V669.63H1503.07zM1440.39,672.72H1444.48V675.8H1440.39zM1466.06,672.72H1469.15V675.8H1466.06zM1490.74,672.72H1493.82V675.8H1490.74zM1453.73,678.88H1456.81V681.96H1453.73zM1478.4,678.88H1481.48V681.96H1478.4zM1503.07,678.88H1507.15V681.96H1503.07zM1440.39,685.04H1444.48V688.13H1440.39zM1466.06,685.04H1469.15V688.13H1466.06zM1490.74,685.04H1493.82V688.13H1490.74zM1453.73,691.21H1456.81V694.29H1453.73zM1478.4,691.21H1481.48V694.29H1478.4zM1503.07,691.21H1507.15V694.29H1503.07zM1440.39,697.37H1444.48V700.45H1440.39zM1466.06,697.37H1469.15V700.45H1466.06zM1490.74,697.37H1493.82V700.45H1490.74zM1453.73,703.54H1456.81V706.62H1453.73zM1478.4,703.54H1481.48V706.62H1478.4zM1503.07,703.54H1507.15V706.62H1503.07zM1440.39,709.7H1444.48V712.78H1440.39zM1466.06,709.7H1469.15V712.78H1466.06zM1490.74,709.7H1493.82V712.78H1490.74zM1453.73,715.86H1456.81V718.95H1453.73zM1478.4,715.86H1481.48V718.95H1478.4zM1503.07,715.86H1507.15V718.95H1503.07zM1440.39,722.03H1444.48V725.11H1440.39zM1466.06,722.03H1469.15V725.11H1466.06zM1490.74,722.03H1493.82V725.11H1490.74zM1453.73,728.19H1456.81V731.27H1453.73zM1478.4,728.19H1481.48V731.27H1478.4zM1503.07,728.19H1507.15V731.27H1503.07zM1440.39,734.36H1444.48V737.44H1440.39zM1466.06,734.36H1469.15V737.44H1466.06zM1490.74,734.36H1493.82V737.44H1490.74zM1453.73,740.52H1456.81V743.6H1453.73zM1478.4,740.52H1481.48V743.6H1478.4zM1503.07,740.52H1507.15V743.6H1503.07zM1440.39,746.68H1444.48V749.77H1440.39zM1466.06,746.68H1469.15V749.77H1466.06zM1490.74,746.68H1493.82V749.77H1490.74zM1453.73,752.85H1456.81V755.93H1453.73zM1478.4,752.85H1481.48V755.93H1478.4zM1503.07,752.85H1507.15V755.93H1503.07zM1440.39,759.01H1444.48V762.09H1440.39zM1466.06,759.01H1469.15V762.09H1466.06zM1490.74,759.01H1493.82V762.09H1490.74zM1453.73,765.18H1456.81V768.26H1453.73zM1478.4,765.18H1481.48V768.26H1478.4zM1503.07,765.18H1507.15V768.26H1503.07zM1440.39,771.34H1444.48V774.42H1440.39zM1466.06,771.34H1469.15V774.42H1466.06zM1490.74,771.34H1493.82V774.42H1490.74zM1453.73,777.5H1456.81V780.59H1453.73zM1478.4,777.5H1481.48V780.59H1478.4zM1503.07,777.5H1507.15V780.59H1503.07zM1440.39,783.67H1444.48V786.75H1440.39zM1466.06,783.67H1469.15V786.75H1466.06zM1490.74,783.67H1493.82V786.75H1490.74zM1453.73,789.83H1456.81V792.91H1453.73zM1478.4,789.83H1481.48V792.91H1478.4zM1503.07,789.83H1507.15V792.91H1503.07zM1440.39,796H1444.48V799.08H1440.39zM1466.06,796H1469.15V799.08H1466.06zM1490.74,796H1493.82V799.08H1490.74zM1453.73,802.16H1456.81V805.24H1453.73zM1478.4,802.16H1481.48V805.24H1478.4zM1503.07,802.16H1507.15V805.24H1503.07zM1440.39,808.32H1444.48V811.41H1440.39zM1466.06,808.32H1469.15V811.41H1466.06zM1490.74,808.32H1493.82V811.41H1490.74zM1453.73,814.49H1456.81V817.57H1453.73zM1478.4,814.49H1481.48V817.57H1478.4zM1503.07,814.49H1507.15V817.57H1503.07zM1440.39,820.65H1444.48V823.73H1440.39zM1466.06,820.65H1469.15V823.73H1466.06zM1490.74,820.65H1493.82V823.73H1490.74zM1453.73,826.82H1456.81V829.9H1453.73zM1478.4,826.82H1481.48V829.9H1478.4zM1503.07,826.82H1507.15V829.9H1503.07zM1440.39,832.98H1444.48V836.06H1440.39zM1466.06,832.98H1469.15V836.06H1466.06zM1490.74,832.98H1493.82V836.06H1490.74zM1453.73,839.14H1456.81V842.23H1453.73zM1478.4,839.14H1481.48V842.23H1478.4zM1503.07,839.14H1507.15V842.23H1503.07zM1440.39,845.31H1444.48V848.39H1440.39zM1466.06,845.31H1469.15V848.39H1466.06zM1490.74,845.31H1493.82V848.39H1490.74zM1453.73,851.47H1456.81V854.55H1453.73zM1478.4,851.47H1481.48V854.55H1478.4zM1503.07,851.47H1507.15V854.55H1503.07zM1440.39,857.64H1444.48V860.72H1440.39zM1466.06,857.64H1469.15V860.72H1466.06zM1490.74,857.64H1493.82V860.72H1490.74zM1453.73,863.8H1456.81V866.88H1453.73zM1478.4,863.8H1481.48V866.88H1478.4zM1503.07,863.8H1507.15V866.88H1503.07zM1440.39,869.96H1444.48V873.05H1440.39zM1466.06,869.96H1469.15V873.05H1466.06zM1490.74,869.96H1493.82V873.05H1490.74zM1453.73,876.13H1456.81V879.21H1453.73zM1478.4,876.13H1481.48V879.21H1478.4zM1503.07,876.13H1507.15V879.21H1503.07zM1440.39,882.29H1444.48V885.37H1440.39zM1466.06,882.29H1469.15V885.37H1466.06zM1490.74,882.29H1493.82V885.37H1490.74zM1453.73,888.46H1456.81V891.54H1453.73zM1478.4,888.46H1481.48V891.54H1478.4zM1503.07,888.46H1507.15V891.54H1503.07zM1440.39,894.62H1444.48V897.7H1440.39zM1466.06,894.62H1469.15V897.7H1466.06zM1490.74,894.62H1493.82V897.7H1490.74zM1453.73,900.78H1456.81V903.87H1453.73zM1478.4,900.78H1481.48V903.87H1478.4zM1503.07,900.78H1507.15V903.87H1503.07z"/>
<path fill="#000" fill-rule="evenodd" d="M1438.31,247.4H1509.24V910.03H1438.31ZM1441.39,250.48H1506.15V906.95H1441.39Z"/>
<rect x="432.98" y="77.89" width="1125.59" height="3.08" fill="#000"/>
<rect x="1555.5" y="77.89" width="3.08" height="832.14" fill="#000"/>
<rect x="429.9" y="77.89" width="6.17" height="832.14" fill="#000"/>
<rect x="432.98" y="906.95" width="1125.59" height="6.16" fill="#000"/>
<rect x="432.98" y="823.73" width="18.5" height="6.16" fill="#000"/>
<rect x="432.98" y="740.52" width="24.67" height="6.16" fill="#000"/>
<rect x="432.98" y="657.31" width="18.5" height="6.16" fill="#000"/>
<rect x="432.98" y="574.09" width="24.67" height="6.16" fill="#000"/>
<rect x="432.98" y="490.88" width="18.5" height="6.16" fill="#000"/>
<rect x="432.98" y="407.66" width="24.67" height="6.16" fill="#000"/>
<rect x="432.98" y="324.45" width="18.5" height="6.16" fill="#000"/>
<rect x="432.98" y="241.24" width="24.67" height="6.16" fill="#000"/>
<rect x="432.98" y="158.02" width="18.5" height="6.16" fill="#000"/>
<rect x="432.98" y="74.81" width="24.67" height="6.16" fill="#000"/>
<rect x="618.01" y="910.03" width="6.17" height="15.41" fill="#000"/>
<rect x="994.24" y="910.03" width="6.17" height="15.41" fill="#000"/>
<rect x="1367.38" y="910.03" width="6.17" height="15.41" fill="#000"/>
<rect x="1555.5" y="910.03" width="6.17" height="15.41" fill="#000"/>
<rect x="620.5" y="179" width="38.21" height="38.18" fill="#d9d9d9"/>
<path fill="#000" fill-rule="evenodd" d="M618.01,176.51H661.19V219.66H618.01ZM621.1,179.6H658.1V216.58H621.1Z"/>
<rect x="861.04" y="179" width="38.21" height="38.18" fill="#fff"/>
<path fill="#000" d="M867.8,178.6H877.06V182.68H867.8zM892.47,178.6H899.64V182.68H892.47zM870.89,182.68H880.14V185.76H870.89zM895.56,182.68H899.64V185.76H895.56zM873.97,185.76H883.22V188.84H873.97zM877.06,188.84H886.31V191.92H877.06zM860.64,191.92H864.72V195.01H860.64zM880.14,191.92H889.39V195.01H880.14zM860.64,195.01H867.8V198.09H860.64zM883.22,195.01H892.47V198.09H883.22zM860.64,198.09H870.89V201.17H860.64zM886.31,198.09H895.56V201.17H886.31zM864.72,201.17H873.97V204.25H864.72zM889.39,201.17H899.64V204.25H889.39zM867.8,204.25H877.06V207.33H867.8zM892.47,204.25H899.64V207.33H892.47zM870.89,207.33H880.14V210.42H870.89zM895.56,207.33H899.64V210.42H895.56zM873.97,210.42H883.22V213.5H873.97zM877.06,213.5H886.31V217.58H877.06z"/>
<path fill="#000" fill-rule="evenodd" d="M858.55,176.51H901.73V219.66H858.55ZM861.64,179.6H898.64V216.58H861.64Z"/>
<rect x="1098.49" y="179" width="38.21" height="38.18" fill="#808080"/>
<path fill="#000" fill-rule="evenodd" d="M1096.01,176.51H1139.18V219.66H1096.01ZM1099.09,179.6H1136.1V216.58H1099.09Z"/>
<rect x="1335.94" y="179" width="38.21" height="38.18" fill="#0d0d0d"/>
<path fill="#fff" d="M1342.71,178.6H1345.8V182.68H1342.71zM1367.38,178.6H1370.47V182.68H1367.38zM1355.05,185.76H1358.13V188.84H1355.05zM1342.71,191.92H1345.8V195.01H1342.71zM1367.38,191.92H1370.47V195.01H1367.38zM1355.05,198.09H1358.13V201.17H1355.05zM1342.71,204.25H1345.8V207.33H1342.71zM1367.38,204.25H1370.47V207.33H1367.38zM1355.05,210.42H1358.13V213.5H1355.05z"/>
<path fill="#000" fill-rule="evenodd" d="M1333.46,176.51H1376.63V219.66H1333.46ZM1336.54,179.6H1373.55V216.58H1336.54Z"/>
</g>
<g id="labels" filter="url(#soft)" stroke="#fff" stroke-width="0.9" stroke-linejoin="round">
<text transform="translate(0,101.35) scale(1.03,1)"><tspan x="158.48 200.34 218.5 257.43 296.37" y="0" font-size="79">1,000</tspan></text>
<text transform="translate(0,267.77) scale(1.03,1)"><tspan x="218.5 257.43 296.37" y="0" font-size="79">800</tspan></text>
<text transform="translate(0,434.2) scale(1.03,1)"><tspan x="218.01 257.43 296.37" y="0" font-size="79">600</tspan></text>
<text transform="translate(0,600.63) scale(1.03,1)"><tspan x="218.3 257.43 296.37" y="0" font-size="79">400</tspan></text>
<text transform="translate(0,767.06) scale(1.03,1)"><tspan x="218.9 257.43 296.37" y="0" font-size="79">200</tspan></text>
<text transform="translate(0,930.4) scale(1.03,1)"><tspan x="296.37" y="0" font-size="79">0</tspan></text>
<text transform="translate(0,1026.35) scale(1.03,1)"><tspan x="562.66 602.63" y="0" font-size="79">10</tspan></text>
<text transform="translate(0,1026.35) scale(1.03,1)"><tspan x="927.73 966.27" y="0" font-size="79">20</tspan></text>
<text transform="translate(0,1026.35) scale(1.03,1)"><tspan x="1290.92 1330.15" y="0" font-size="79">30</tspan></text>
<text transform="translate(0,210.02) scale(1.09,1)"><tspan x="471.11 495.85 528.8" y="0" font-size="80">(a)</tspan></text>
<text transform="translate(0,210.02) scale(1.09,1)"><tspan x="688.91 713.89 749.35" y="0" font-size="80">(b)</tspan></text>
<text transform="translate(0,210.02) scale(1.09,1)"><tspan x="909.64 934.98 967.33" y="0" font-size="80">(c)</tspan></text>
<text transform="translate(0,210.02) scale(1.09,1)"><tspan x="1127.44 1151.26 1187.88" y="0" font-size="80">(d)</tspan></text>
<text transform="translate(0,1127.65) scale(1.04,1)"><tspan x="810.13" y="0" font-style="italic" font-size="80">V</tspan><tspan x="845.13 864.91 902.71" y="19.2" font-style="italic" font-size="55">rws</tspan><tspan x="927.88 941.58 967.5 1029.28 1050.07 1080.03" y="0" font-size="80"> (m/s)</tspan></text>
<text transform="translate(124.3,0) rotate(-90) scale(1.04,1)"><tspan x="-557.84" y="0" font-style="italic" font-size="81">R</tspan><tspan x="-508.65 -489.22 -471.76" y="18.5" font-style="italic" font-size="56">vfz</tspan><tspan x="-432.69 -413.4 -389.01 -322.39" y="0" font-size="81"> (%)</tspan></text>
</g>
</svg>
</body>
</html>
